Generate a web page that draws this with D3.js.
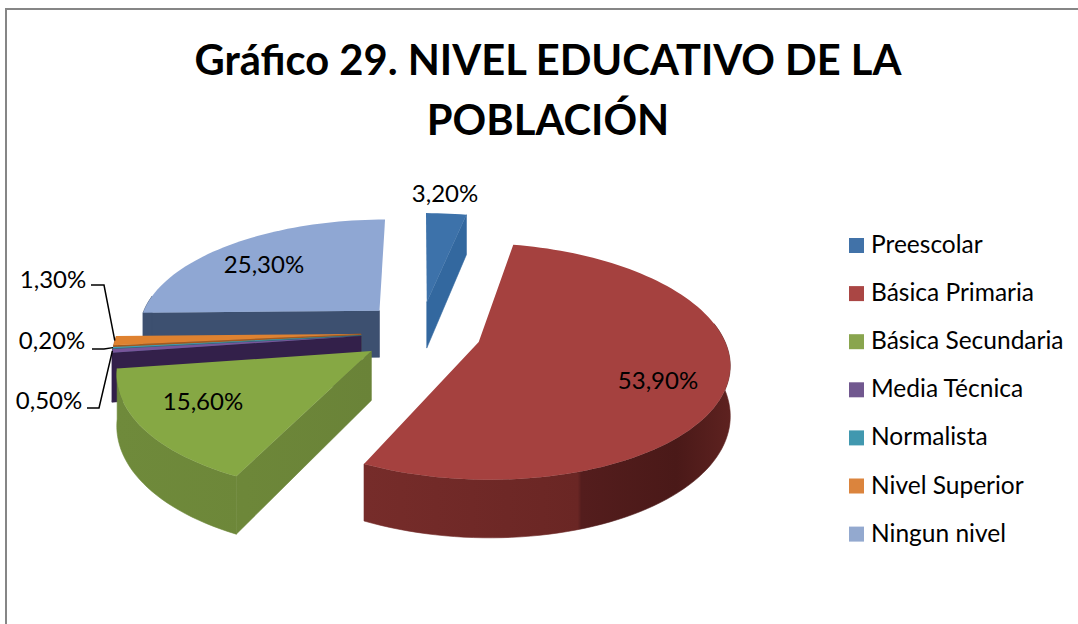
<!DOCTYPE html>
<html><head><meta charset="utf-8">
<script src="https://cdn.jsdelivr.net/npm/d3@7/dist/d3.min.js"></script>
<style>html,body{margin:0;padding:0;background:#fff}svg{display:block}text{font-family:Lato,"Open Sans",sans-serif;fill:#000}</style>
</head><body><svg id="c" width="1078" height="624"></svg>
<script>
const titleLines = ["Gráfico 29. NIVEL EDUCATIVO DE LA", "POBLACIÓN"];
const categories = ["Preescolar","Básica Primaria","Básica Secundaria","Media Técnica","Normalista","Nivel Superior","Ningun nivel"];
const values = [3.2,53.9,15.6,0.5,0.2,1.3,25.3];
const valueLabels = ["3,20%","53,90%","15,60%","0,50%","0,20%","1,30%","25,30%"];
const topColors = ["#3d72aa","#a5413f","#86a844","#77559a","#3f9db5","#df8230","#8fa7d3"];
const legendColors = ["#4172a8","#aa4644","#89a54e","#71588f","#4198af","#db843d","#93a9cf"];
const faceColors = ["#33689f","#6a2826","#6d8639","#33204a","#2a6b7c","#a35a1f","#3d5070"];

// projection
const cx=421, cy=332, R=243, aY=112, persp=0.16, H=48, explode=60;
const project=(th,r,h,ex,ey)=>{
  const wx=R*r*Math.sin(th)+ex, wd=r*Math.cos(th)+ey/aY;
  const s=1/(1+persp*wd);
  return [cx+wx*s, cy+(-aY*wd+h)*s];
};
const svg=d3.select("#c");
const defs=svg.append("defs");
const grad=(id,x1,x2,stops)=>{const g=defs.append("linearGradient").attr("id",id).attr("gradientUnits","userSpaceOnUse").attr("x1",x1).attr("x2",x2).attr("y1",0).attr("y2",0);
 stops.forEach(([o,c])=>g.append("stop").attr("offset",o).attr("stop-color",c));return `url(#${id})`;};
const redWall=grad("rw",366,731,[[0,"#762c2a"],[.58,"#6a2624"],[.59,"#541d1d"],[.85,"#4a1918"],[1,"#5e2220"]]);
const greenWall=grad("gw",118,372,[[0,"#6f8a3b"],[.5,"#6d8739"],[1,"#6a8338"]]);

const frame=d3.line();
svg.append("path").attr("d",frame([[6,624],[6,9],[1078,9]])).attr("fill","none").attr("stroke","#868686").attr("stroke-width",2);

const arcs=d3.pie().value(d=>d).sort(null)(values);
const N=48;
const line=d3.line();
const slices=arcs.map((a,i)=>{
  const mid=(a.startAngle+a.endAngle)/2;
  const ex=explode*Math.sin(mid), ey=aY*0.28*Math.cos(mid);
  const P=(th,r,h)=>project(th,r,h,ex,ey);
  const n=Math.max(2,Math.ceil((a.endAngle-a.startAngle)/(2*Math.PI)*N*4));
  const ths=d3.range(n+1).map(k=>a.startAngle+(a.endAngle-a.startAngle)*k/n);
  return {i,a,P,ths,mid};
});
const order=[6,0,5,4,3,2,1];
const g=svg.append("g");
const solid=(sel,pts,fill)=>sel.append("path").attr("d",line(pts)+"Z").attr("fill",fill).attr("stroke",fill).attr("stroke-width",0.6);
order.forEach(idx=>{
  const s=slices[idx],{a,P,ths}=s;
  const sg=g.append("g");
  const face=(th)=>[P(th,0,0),P(th,1,0),P(th,1,H),P(th,0,H)];
  if(idx===0) solid(sg,face(a.endAngle),faceColors[0]);
  if(idx===2) solid(sg,face(a.startAngle),greenWall);
  if(idx===3||idx===4||idx===5||idx===6) solid(sg,face(a.startAngle),faceColors[idx]);
  const near=ths.filter(t=>Math.cos(t)<0.17);
  if(near.length>1){
    const wall=[...near.map(t=>P(t,1,0)),...near.slice().reverse().map(t=>P(t,1,H))];
    solid(sg,wall,idx===1?redWall:idx===2?greenWall:faceColors[idx]);
  }
  const top=[P(a.startAngle,0,0),...ths.map(t=>P(t,1,0))];
  sg.append("path").attr("d",line(top)+"Z").attr("fill",topColors[idx]);
});

// labels
const labelAt=[[445,194],[658,381],[203,402],[49,401],[52,341],[53,280],[264,265]];
const fs=24;
valueLabels.forEach((t,i)=>svg.append("text").attr("x",labelAt[i][0]).attr("y",labelAt[i][1]+8).attr("text-anchor","middle").attr("font-size",fs).text(t));

// leaders: slice index, label end x, elbow x, y; they run to the slice's outer edge
const leaders=[[3,87,99,408],[4,92,104,349],[5,91,104,285]];
leaders.forEach(([i,x0,x1,y])=>{
  const a=arcs[i], th=(a.startAngle+a.endAngle)/2, s=slices[i];
  svg.append("path").attr("d",line([[x0,y],[x1,y],s.P(th,1,0)])).attr("fill","none").attr("stroke","#000").attr("stroke-width",1.5);
});

// title
titleLines.forEach((t,i)=>svg.append("text").attr("x",548).attr("y",75+i*60).attr("text-anchor","middle").attr("font-size",41.7).attr("font-weight",700).text(t));

// legend
const lg=svg.selectAll("g.l").data(categories).join("g").attr("class","l").attr("transform",(d,i)=>`translate(849,${238+i*48.1})`);
lg.append("rect").attr("width",15).attr("height",15).attr("fill",(d,i)=>legendColors[i]);
lg.append("text").attr("x",22).attr("y",15).attr("font-size",24.5).text(d=>d);
</script></body></html>
